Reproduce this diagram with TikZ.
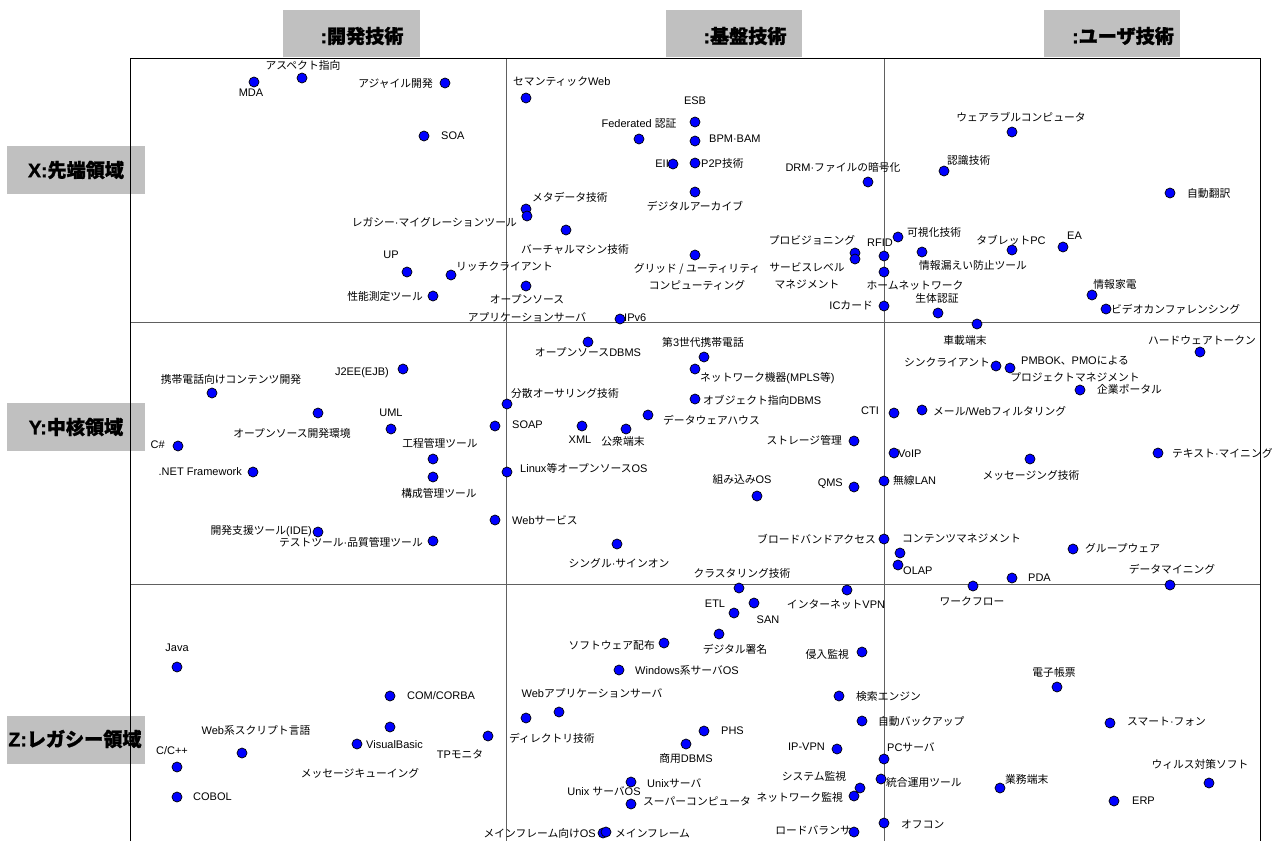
\documentclass[tikz,border=0pt]{standalone}
\usepackage{fontspec}
\setmainfont{Liberation Sans}
\newfontfamily\cjkfont{Noto Sans CJK JP}[Scale=0.98, BoldFeatures={FakeBold=1.2}]
\newfontfamily\latfont{Liberation Sans}[BoldFeatures={FakeBold=1.2}]
\newcount\cjkc
\cjkc="3000
\loop \XeTeXcharclass\cjkc=7 \advance\cjkc by 1 \ifnum\cjkc<"A000 \repeat
\cjkc="FF00
\loop \XeTeXcharclass\cjkc=7 \advance\cjkc by 1 \ifnum\cjkc<"FFF0 \repeat
\XeTeXinterchartoks 0 7 = {\cjkfont}
\XeTeXinterchartoks 4095 7 = {\cjkfont}
\XeTeXinterchartoks 7 0 = {\latfont}
\definecolor{dotblue}{HTML}{0000FF}
\definecolor{hdrgray}{HTML}{C0C0C0}
\definecolor{divgray}{HTML}{606060}
\pgfdeclarelayer{bg}
\pgfdeclarelayer{lbllayer}
\pgfsetlayers{bg,lbllayer,main}
\tikzset{
  dot/.style={circle, fill=dotblue, draw=black, line width=0.7pt, minimum size=10pt, inner sep=0pt},
  lbl/.style={inner sep=0pt, align=center, font=\fontsize{11}{17.5}\selectfont\latfont},
  hbox/.style={fill=hdrgray, inner sep=0pt, minimum height=47pt},
  htxt/.style={inner sep=0pt, font=\fontsize{19.5}{22}\selectfont\bfseries\latfont},
  frameline/.style={black, line width=0.9pt},
  divline/.style={divgray, line width=0.8pt}
}
\newcommand\itm[5]{%
  \begin{pgfonlayer}{lbllayer}\node[lbl,anchor=#3] (t#1) at (#4) {#5};\end{pgfonlayer}
  \node[dot] (d#1) at (#2) {};}
\begin{document}
\XeTeXinterchartokenstate=1
\begin{tikzpicture}[x=1pt,y=-1pt]
\useasboundingbox (0,0) rectangle (1274,841);
\begin{pgfonlayer}{bg}
\node[hbox, minimum width=137pt] (hA) at (351.5,33.5) {};
\node[hbox, minimum width=136pt] (hB) at (734,33.5) {};
\node[hbox, minimum width=136pt] (hC) at (1112,33.5) {};
\node[hbox, minimum width=138pt, minimum height=48pt] (hX) at (76,170) {};
\node[hbox, minimum width=138pt, minimum height=48pt] (hY) at (76,427) {};
\node[hbox, minimum width=138pt, minimum height=48pt] (hZ) at (76,740) {};
\draw[divline] (130,322) -- (1260,322);
\draw[divline] (130,584) -- (1260,584);
\draw[divline] (506,58) -- (506,841);
\draw[divline] (884,58) -- (884,841);
\draw[frameline] (130,841) -- (130,58) -- (1260,58) -- (1260,841);
\end{pgfonlayer}
\node[htxt] (tA) at (362,36) {:開発技術};
\node[htxt] (tB) at (745,36) {:基盤技術};
\node[htxt] (tC) at (1123,36) {:ユーザ技術};
\node[htxt] (tX) at (76,170) {X:先端領域};
\node[htxt] (tY) at (76,427) {Y:中核領域};
\node[htxt] (tZ) at (75,739) {Z:レガシー領域};
% items: id, dot, anchor, label pos, text
\itm{1}{254,82}{center}{251,93}{MDA}
\itm{2}{302,78}{center}{303,65}{アスペクト指向}
\itm{3}{445,83}{east}{433,83}{アジャイル開発}
\itm{4}{424,136}{west}{441,136}{SOA}
\itm{5}{526,98}{west}{513,82}{セマンティックWeb}
\itm{6}{639,139}{center}{639,124}{Federated 認証}
\itm{7}{695,122}{center}{695,101}{ESB}
\itm{8}{695,141}{west}{709,139}{BPM·BAM}
\itm{9}{695,163}{west}{701,163}{P2P技術}
\itm{10}{673,164}{east}{669,164}{EII}
\itm{11}{695,192}{center}{695,206}{デジタルアーカイブ}
\itm{12}{868,182}{center}{843,167}{DRM·ファイルの暗号化}
\itm{13}{944,171}{west}{947,160}{認識技術}
\itm{14}{1012,132}{center}{1021,117}{ウェアラブルコンピュータ}
\itm{15}{1170,193}{west}{1187,193}{自動翻訳}
\itm{16}{526,209}{west}{532,197}{メタデータ技術}
\itm{17}{527,216}{east}{517,222}{レガシー·マイグレーションツール}
\itm{18}{566,230}{center}{575,249}{バーチャルマシン技術}
\itm{19}{407,272}{center}{391,255}{UP}
\itm{20}{451,275}{west}{456,267}{リッチクライアント}
\itm{21}{526,286}{center}{527,308.5}{オープンソース\\アプリケーションサーバ}
\itm{22}{433,296}{east}{423,296}{性能測定ツール}
\itm{23}{695,255}{center}{697,277}{グリッド / ユーティリティ\\コンピューティング}
\itm{24}{855,253}{center}{812,240}{プロビジョニング}
\itm{25}{855,259}{center}{807,276}{サービスレベル\\マネジメント}
\itm{26}{884,256}{center}{880,243}{RFID}
\itm{27}{898,237}{west}{907,232}{可視化技術}
\itm{28}{922,252}{west}{919,265}{情報漏えい防止ツール}
\itm{29}{1012,250}{center}{1011,240}{タブレットPC}
\itm{30}{1063,247}{west}{1067,236}{EA}
\itm{31}{884,272}{center}{915,286}{ホームネットワーク}
\itm{32}{884,306}{east}{873,305}{ICカード}
\itm{33}{938,313}{center}{937,298}{生体認証}
\itm{34}{1092,295}{center}{1115,284}{情報家電}
\itm{35}{1106,309}{west}{1111,309}{ビデオカンファレンシング}
\itm{36}{620,319}{west}{624,318}{IPv6}
\itm{37}{588,342}{center}{588,352}{オープンソースDBMS}
\itm{38}{704,357}{center}{703,342}{第3世代携帯電話}
\itm{39}{695,369}{west}{700,378}{ネットワーク機器(MPLS等)}
\itm{40}{977,324}{center}{965,340}{車載端末}
\itm{41}{996,366}{east}{990,362}{シンクライアント}
\itm{42}{1010,368}{center}{1075,369}{PMBOK、PMOによる\\プロジェクトマネジメント}
\itm{43}{1200,352}{center}{1202,340}{ハードウェアトークン}
\itm{44}{212,393}{center}{231,379}{携帯電話向けコンテンツ開発}
\itm{45}{403,369}{east}{389,373}{J2EE(EJB)}
\itm{46}{507,404}{west}{511,393}{分散オーサリング技術}
\itm{47}{695,399}{west}{703,400}{オブジェクト指向DBMS}
\itm{48}{648,415}{west}{663,420}{データウェアハウス}
\itm{49}{1080,390}{west}{1097,389}{企業ポータル}
\itm{50}{894,413}{east}{879,411}{CTI}
\itm{51}{922,410}{west}{933,411}{メール/Webフィルタリング}
\itm{52}{318,413}{center}{292,433}{オープンソース開発環境}
\itm{53}{391,429}{center}{391,413}{UML}
\itm{54}{495,426}{west}{512,425}{SOAP}
\itm{55}{582,426}{center}{580,440}{XML}
\itm{56}{626,429}{center}{623,441}{公衆端末}
\itm{57}{433,459}{center}{440,443}{工程管理ツール}
\itm{58}{433,477}{center}{439,493}{構成管理ツール}
\itm{59}{178,446}{east}{165,445}{C\#}
\itm{60}{253,472}{east}{242,472}{.NET Framework}
\itm{61}{507,472}{west}{520,468}{Linux等オープンソースOS}
\itm{62}{854,441}{east}{842,440}{ストレージ管理}
\itm{63}{894,453}{west}{898,454}{VoIP}
\itm{64}{1158,453}{west}{1172,453}{テキスト·マイニング}
\itm{65}{1030,459}{center}{1031,475}{メッセージング技術}
\itm{66}{757,496}{center}{742,479}{組み込みOS}
\itm{67}{854,487}{east}{843,484}{QMS}
\itm{68}{884,481}{west}{893,480}{無線LAN}
\itm{69}{495,520}{west}{512,520}{Webサービス}
\itm{70}{318,532}{east}{312,531}{開発支援ツール(IDE)}
\itm{71}{433,541}{east}{423,542}{テストツール·品質管理ツール}
\itm{72}{617,544}{center}{619,563}{シングル·サインオン}
\itm{73}{884,539}{east}{876,539}{ブロードバンドアクセス}
\itm{74}{900,553}{west}{902,538}{コンテンツマネジメント}
\itm{75}{898,565}{west}{903,571}{OLAP}
\itm{76}{1073,549}{west}{1085,548}{グループウェア}
\itm{77}{739,588}{center}{742,573}{クラスタリング技術}
\itm{78}{847,590}{center}{836,605}{インターネットVPN}
\itm{79}{1012,578}{west}{1028,578}{PDA}
\itm{80}{1170,585}{center}{1172,569}{データマイニング}
\itm{81}{973,586}{center}{972,601}{ワークフロー}
\itm{82}{734,613}{center}{715,604}{ETL}
\itm{83}{754,603}{center}{768,620}{SAN}
\itm{84}{719,634}{center}{735,649}{デジタル署名}
\itm{85}{664,643}{east}{655,645}{ソフトウェア配布}
\itm{86}{862,652}{east}{849,654}{侵入監視}
\itm{87}{619,670}{west}{635,670}{Windows系サーバOS}
\itm{88}{177,667}{center}{177,648}{Java}
\itm{89}{1057,687}{center}{1054,672}{電子帳票}
\itm{90}{390,696}{west}{407,696}{COM/CORBA}
\itm{91}{839,696}{west}{856,696}{検索エンジン}
\itm{92}{559,712}{center}{592,693}{Webアプリケーションサーバ}
\itm{93}{526,718}{west}{509,738}{ディレクトリ技術}
\itm{94}{862,721}{west}{878,721}{自動バックアップ}
\itm{95}{1110,723}{west}{1127,722}{スマート·フォン}
\itm{96}{390,727}{center}{360,773}{メッセージキューイング}
\itm{97}{488,736}{center}{460,754}{TPモニタ}
\itm{98}{357,744}{west}{366,745}{VisualBasic}
\itm{99}{704,731}{west}{721,731}{PHS}
\itm{100}{686,744}{center}{686,758}{商用DBMS}
\itm{101}{837,749}{east}{825,747}{IP-VPN}
\itm{102}{884,759}{west}{887,747}{PCサーバ}
\itm{103}{242,753}{center}{256,730}{Web系スクリプト言語}
\itm{104}{177,767}{center}{172,751}{C/C++}
\itm{105}{177,797}{west}{193,797}{COBOL}
\itm{106}{881,779}{west}{886,782}{統合運用ツール}
\itm{107}{860,788}{center}{814,776}{システム監視}
\itm{108}{854,796}{east}{843,797}{ネットワーク監視}
\itm{109}{631,782}{west}{647,783}{Unixサーバ}
\begin{pgfonlayer}{lbllayer}\node[lbl] (t110) at (604,791) {Unix サーバOS};\end{pgfonlayer}
\itm{111}{631,804}{west}{643,801}{スーパーコンピュータ}
\itm{112}{1000,788}{west}{1005,779}{業務端末}
\itm{113}{1209,783}{center}{1200,764}{ウィルス対策ソフト}
\itm{114}{1114,801}{west}{1132,801}{ERP}
\itm{115}{884,823}{west}{901,824}{オフコン}
\itm{116}{854,832}{east}{851,830}{ロードバランサ}
\itm{117}{603,833}{east}{596,833}{メインフレーム向けOS}
\itm{118}{606,832}{west}{615,833}{メインフレーム}
\end{tikzpicture}
\end{document}
